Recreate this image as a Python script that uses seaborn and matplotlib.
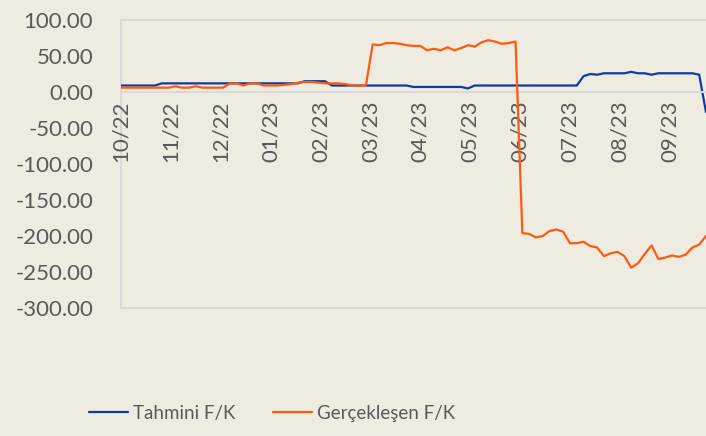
import numpy as np
import pandas as pd
import matplotlib.pyplot as plt
import seaborn as sns

# business days, one reading every 3rd day
days = pd.bdate_range('2022-10-03', periods=259)
step = 3
tick_every = 22

tahmini = [9, 9, 9, 9, 9, 9, 12, 12, 12, 12,
           12, 12, 12, 12, 12, 12, 12, 12, 12, 12,
           12, 12, 12, 12, 12, 12, 12, 15, 15, 15,
           15, 9, 9, 9, 9, 9, 9, 9, 9, 9,
           9, 9, 9, 7, 7, 7, 7, 7, 7, 7,
           7, 5, 9, 9, 9, 9, 9, 9, 9, 9,
           9, 9, 9, 9, 9, 9, 9, 9, 22, 25,
           24, 26, 26, 26, 26, 28, 26, 26, 24, 26,
           26, 26, 26, 26, 26, 24, -28]

gerceklesen = [6, 6, 6, 6, 6, 6, 6, 6, 8, 6,
               6, 8, 6, 6, 6, 6, 12, 12, 9, 12,
               12, 9, 9, 9, 10, 11, 13, 14, 14, 13,
               12, 12, 12, 11, 9, 9, 9, 66, 65, 68,
               68, 67, 65, 64, 64, 58, 60, 58, 62, 58,
               61, 65, 63, 69, 72, 70, 67, 68, 70, -196,
               -197, -202, -200, -193, -191, -194, -210, -210, -208, -214,
               -216, -228, -224, -222, -228, -244, -238, -225, -213, -232,
               -230, -227, -229, -226, -216, -212, -200]

names = ['Tahmini F/K', 'Gerçekleşen F/K']
colors = ['#0D3B9E', '#FF5A0F']
y_ticks = [100, 50, 0, -50, -100, -150, -200, -250, -300]

n = len(tahmini)
x = np.arange(n) * step
df = pd.DataFrame({
    'x': np.concatenate([x, x]),
    'fk': tahmini + gerceklesen,
    'seri': [names[0]] * n + [names[1]] * n,
})

bg = '#EEEBE1'
grey = '#D9D9D9'
txt = '#595959'

sns.set_style('white', {'axes.facecolor': bg, 'figure.facecolor': bg})
plt.rcParams['font.family'] = ['Lato', 'DejaVu Sans']

fig = plt.figure(figsize=(7.06, 4.36), dpi=100)
ax = fig.add_axes([121 / 706, 1 - 308 / 436, 585 / 706, 288 / 436])

sns.lineplot(data=df, x='x', y='fk', hue='seri', palette=colors, linewidth=1.6, ax=ax)

# x axis sits on the zero line, frame drawn around
ax.spines['bottom'].set_position(('data', 0))
ax.spines['right'].set_visible(False)
for s in ['bottom', 'top', 'left']:
    ax.spines[s].set_color(grey)
    ax.spines[s].set_linewidth(1.5)
ax.spines['left'].set_zorder(0.2)
ax.axhline(-300, color=grey, lw=1.5, clip_on=False)

ax.set_xlim(0, (n - 1) * step)
ax.set_ylim(-300, 100)
ax.set_yticks(y_ticks)
ax.set_yticklabels([f'{v:.2f}' for v in y_ticks])
ticks = np.arange(0, (n - 1) * step + 1, tick_every)
ax.set_xticks(ticks)
ax.set_xticklabels([days[t].strftime('%m/%y') for t in ticks])
ax.set_xlabel('')
ax.set_ylabel('')
ax.tick_params(axis='y', length=0, pad=20, labelsize=16, labelcolor=txt)
ax.tick_params(axis='x', length=0, pad=6, labelsize=16, labelcolor=txt, labelrotation=90)

# blue below orange
ax.lines[0].set_zorder(2)
ax.lines[1].set_zorder(3)

ax.get_legend().remove()
handles = ax.lines[:2]
fig.legend(handles, names, loc='center', bbox_to_anchor=(272 / 706, 1 - 413 / 436),
           ncol=2, frameon=False, fontsize=13.5, labelcolor=txt,
           handlelength=2.1, handletextpad=0.25, columnspacing=2.0)

fig.savefig('out.png', dpi=100, facecolor=bg)
